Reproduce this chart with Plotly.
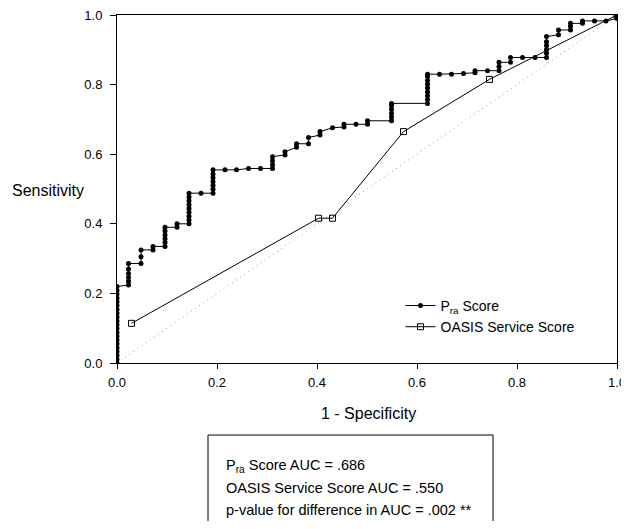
import plotly.graph_objects as go

# P_ra score ROC points (1 - specificity, sensitivity)
pra_x = [0, 0, 0, 0, 0, 0, 0, 0, 0, 0, 0, 0, 0, 0, 0, 0, 0, 0, 0, 0, 0,
         0.023, 0.023, 0.023, 0.023, 0.023, 0.023,
         0.048, 0.048, 0.048,
         0.072, 0.072,
         0.096, 0.096, 0.096, 0.096, 0.096, 0.096,
         0.12, 0.12,
         0.144, 0.144, 0.144, 0.144, 0.144, 0.144, 0.144, 0.144, 0.144,
         0.168,
         0.192, 0.192, 0.192, 0.192, 0.192, 0.192, 0.192,
         0.216, 0.239, 0.263, 0.287,
         0.311, 0.311, 0.311, 0.311,
         0.336, 0.336,
         0.359, 0.359,
         0.383, 0.383,
         0.406, 0.406,
         0.431,
         0.454, 0.454,
         0.478,
         0.501, 0.501,
         0.549, 0.549, 0.549, 0.549, 0.549, 0.549,
         0.621, 0.621, 0.621, 0.621, 0.621, 0.621, 0.621, 0.621, 0.621,
         0.645, 0.669, 0.693,
         0.716, 0.716,
         0.741,
         0.764, 0.764, 0.764,
         0.787, 0.787,
         0.811, 0.836,
         0.859, 0.859, 0.859, 0.859, 0.859, 0.859,
         0.883, 0.883,
         0.907, 0.907, 0.907,
         0.931, 0.931,
         0.955, 0.978,
         1.0, 1.0]
pra_y = [0.0, 0.011, 0.022, 0.033, 0.044, 0.055, 0.066, 0.077, 0.088, 0.099, 0.110,
         0.121, 0.132, 0.143, 0.154, 0.165, 0.176, 0.187, 0.198, 0.209, 0.220,
         0.224, 0.235, 0.246, 0.257, 0.270, 0.286,
         0.286, 0.305, 0.325,
         0.325, 0.335,
         0.335, 0.346, 0.357, 0.368, 0.379, 0.390,
         0.390, 0.400,
         0.400, 0.411, 0.422, 0.433, 0.444, 0.455, 0.466, 0.477, 0.488,
         0.488,
         0.488, 0.499, 0.510, 0.521, 0.532, 0.543, 0.555,
         0.555, 0.555, 0.559, 0.559,
         0.559, 0.570, 0.581, 0.593,
         0.598, 0.607,
         0.620, 0.630,
         0.630, 0.648,
         0.655, 0.665,
         0.676,
         0.678, 0.686,
         0.686,
         0.686, 0.696,
         0.696, 0.707, 0.718, 0.729, 0.740, 0.746,
         0.746, 0.757, 0.768, 0.779, 0.790, 0.801, 0.812, 0.823, 0.830,
         0.830, 0.830, 0.832,
         0.834, 0.840,
         0.840,
         0.840, 0.852, 0.864,
         0.864, 0.878,
         0.878, 0.878,
         0.878, 0.890, 0.901, 0.912, 0.923, 0.938,
         0.943, 0.957,
         0.957, 0.968, 0.976,
         0.976, 0.983,
         0.983, 0.983,
         0.990, 1.0]

# OASIS service score ROC points
oasis_x = [0.029, 0.403, 0.431, 0.573, 0.745, 1.0]
oasis_y = [0.114, 0.416, 0.416, 0.665, 0.815, 1.0]

# reference diagonal
diag_x = [0, 1]
diag_y = [0, 1]

x_ticks = [0.0, 0.2, 0.4, 0.6, 0.8, 1.0]
y_ticks = [0.0, 0.2, 0.4, 0.6, 0.8, 1.0]

box_lines = ["P<sub>ra</sub> Score AUC = .686",
             "OASIS Service Score AUC = .550",
             "p-value for difference in AUC = .002 **"]

FONT = "Liberation Sans, Arial, sans-serif"

fig = go.Figure()
fig.add_trace(go.Scatter(x=diag_x, y=diag_y, mode="lines",
                         line=dict(color="#999999", width=1, dash="1px,4px"),
                         showlegend=False, hoverinfo="skip"))
fig.add_trace(go.Scatter(x=pra_x, y=pra_y, mode="lines+markers",
                         name="P<sub>ra</sub> Score",
                         line=dict(color="black", width=1),
                         marker=dict(symbol="circle", size=5, color="black")))
fig.add_trace(go.Scatter(x=oasis_x, y=oasis_y, mode="lines+markers",
                         name="OASIS Service Score",
                         line=dict(color="black", width=1),
                         marker=dict(symbol="square-open", size=6, color="black",
                                     line=dict(width=1))))

fig.update_layout(
    width=621, height=513,
    margin=dict(l=109, r=12, t=7, b=158, autoexpand=False),
    paper_bgcolor="white", plot_bgcolor="white",
    font=dict(family=FONT, size=13, color="black"),
    showlegend=True,
    legend=dict(x=0.567, y=0.21, xanchor="left", yanchor="top",
                bgcolor="rgba(0,0,0,0)", font=dict(size=14), tracegroupgap=0),
    xaxis=dict(range=[0, 1], tickvals=x_ticks, ticktext=[f"{v:.1f}" for v in x_ticks],
               showgrid=False, zeroline=False, showline=True, linecolor="black",
               linewidth=1, mirror=True, ticks="outside", ticklen=5,
               tickcolor="black", tickfont=dict(size=13), automargin=False,
               ticklabelstandoff=2, ticklabeloverflow="allow"),
    yaxis=dict(range=[0, 1], tickvals=y_ticks, ticktext=[f"{v:.1f}" for v in y_ticks],
               showgrid=False, zeroline=False, showline=True, linecolor="black",
               linewidth=1, mirror=True, ticks="outside", ticklen=6,
               tickcolor="black", tickfont=dict(size=13), automargin=False,
               ticklabelstandoff=5, ticklabeloverflow="allow"),
)

# axis titles
fig.add_annotation(text="1 - Specificity", xref="paper", yref="paper",
                   x=0.502, y=-0.144, showarrow=False, font=dict(size=16),
                   xanchor="center", yanchor="middle")
fig.add_annotation(text="Sensitivity", xref="paper", yref="paper",
                   x=-0.214, y=0.497, showarrow=False, font=dict(size=16),
                   xanchor="left", yanchor="middle")

# AUC box
fig.add_shape(type="rect", xref="paper", yref="paper",
              x0=0.182, x1=0.752, y0=-0.207, y1=-0.55,
              line=dict(color="black", width=1), fillcolor="rgba(0,0,0,0)")
for i, t in enumerate(box_lines):
    fig.add_annotation(text=t, xref="paper", yref="paper",
                       x=0.214, y=-0.296 - 0.0632 * i, showarrow=False,
                       font=dict(size=14.5), xanchor="left", yanchor="middle",
                       align="left")

fig.write_html("out.html")
